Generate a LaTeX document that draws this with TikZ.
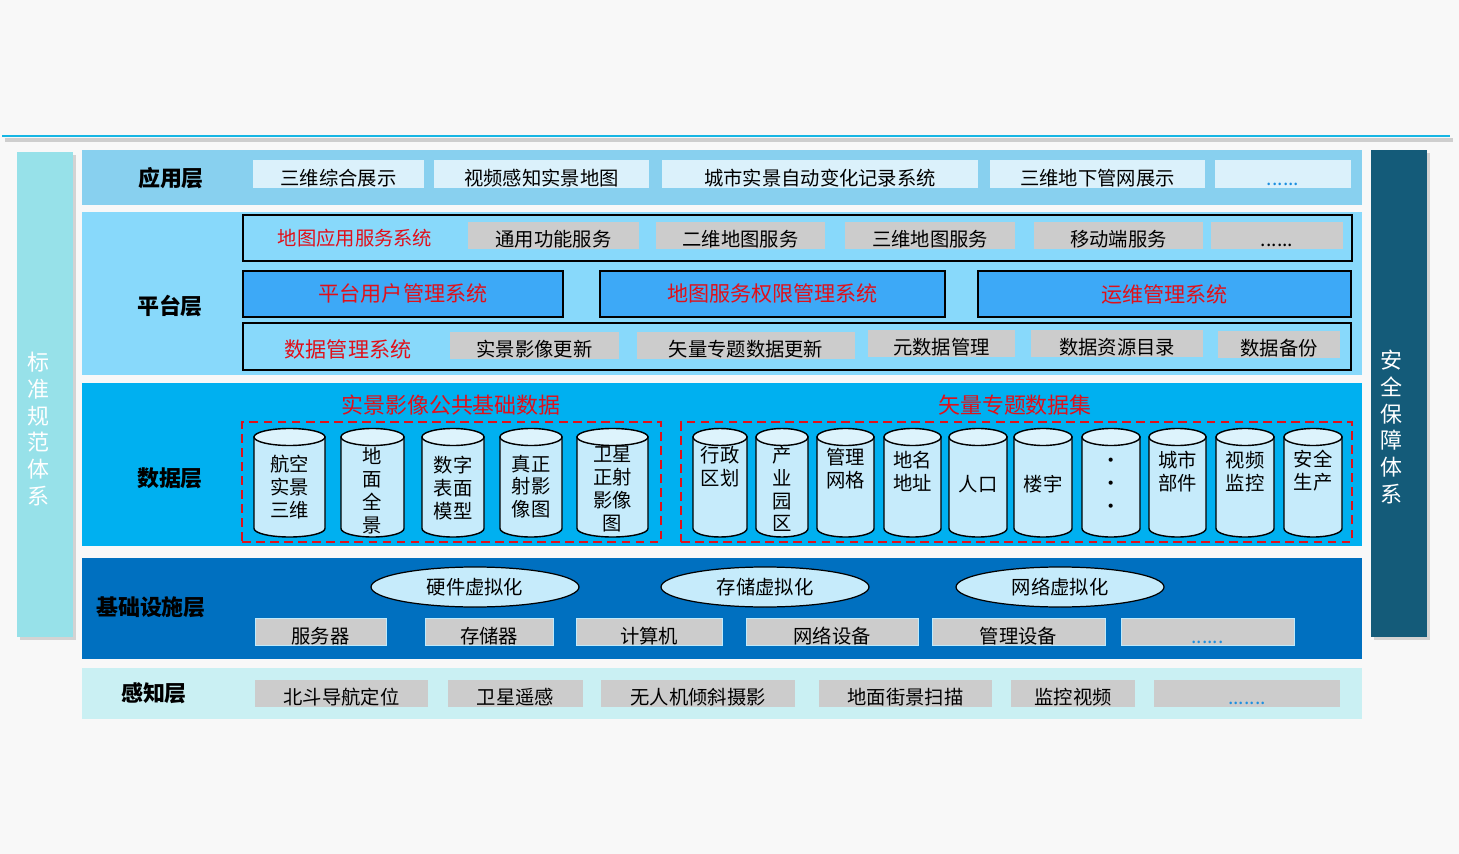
\documentclass[tikz,border=0pt]{standalone}
\usepackage{fontspec}
\setmainfont{Noto Sans CJK SC}
\usetikzlibrary{shapes.geometric,shadows}

\definecolor{pagebg}{HTML}{F8F8F8}
\definecolor{topline}{HTML}{16B6E4}
\definecolor{stdbar}{HTML}{97E1E9}
\definecolor{secbar}{HTML}{145B79}
\definecolor{applayer}{HTML}{88D0EF}
\definecolor{appbox}{HTML}{DBF1FB}
\definecolor{platlayer}{HTML}{88D9FB}
\definecolor{sysblue}{HTML}{3DA9F7}
\definecolor{datalayer}{HTML}{00B0F0}
\definecolor{cylbody}{HTML}{C6EBFB}
\definecolor{cylcap}{HTML}{DDF3FC}
\definecolor{infralayer}{HTML}{0070C0}
\definecolor{senselayer}{HTML}{CAF0F3}
\definecolor{boxgray}{HTML}{CCCCCC}
\definecolor{redtxt}{HTML}{E0101A}
\definecolor{dotblue}{HTML}{1C8FE0}

% dots kept in macros so that \foreach does not read them as a range
\newcommand{\etcdots}{......}
\newcommand{\bluedots}{\textcolor{dotblue}{......}}
\newcommand{\bluedotslong}{\textcolor{dotblue}{.......}}

\tikzstyle{band} = [inner sep=0pt, minimum width=1280*0.02cm]
\tikzstyle{layer name} = [font=\bfseries\fontsize{12.5}{15}\selectfont]
\tikzstyle{side bar} = [inner sep=0pt, minimum width=56*0.02cm, drop shadow={opacity=0.3,shadow xshift=1.5pt,shadow yshift=-1.5pt}]
\tikzstyle{side text} = [text=white, align=center, font=\fontsize{12.5}{15.3}\selectfont]
\tikzstyle{app box} = [fill=appbox, inner sep=0pt, minimum height=28*0.02cm, text height=1.3em, text depth=0pt, font=\fontsize{11}{13}\selectfont]
\tikzstyle{gray box} = [fill=boxgray, inner sep=0pt, minimum height=27*0.02cm, text height=1.3em, text depth=0pt, font=\fontsize{11}{13}\selectfont]
\tikzstyle{sys frame} = [draw=black, line width=0.8pt, inner sep=0pt, minimum height=46*0.02cm]
\tikzstyle{system} = [sys frame, fill=sysblue, text=redtxt, font=\fontsize{12}{14}\selectfont]
\tikzstyle{red title} = [text=redtxt, font=\fontsize{12.5}{15}\selectfont]
\tikzstyle{dataset} = [draw=redtxt, line width=0.9pt, dash pattern=on 5pt off 3pt, inner sep=0pt, minimum height=120*0.02cm]
\tikzstyle{store} = [draw=black, line width=0.8pt, fill=cylbody]
\tikzstyle{store cap} = [draw=black, line width=0.8pt, fill=cylcap]
\tikzstyle{store text} = [align=center, font=\fontsize{11}{13}\selectfont]
\tikzstyle{virtual} = [ellipse, draw=black, line width=0.7pt, fill=cylbody, inner sep=0pt, minimum width=208*0.02cm, minimum height=40*0.02cm, font=\fontsize{11}{13}\selectfont]

\begin{document}
\begin{tikzpicture}[x=0.02cm, y=-0.02cm]
  \useasboundingbox[fill=pagebg] (0,0) rectangle (1459,854);
  % top rule with its shadow
  \draw[black!35, opacity=0.5, line width=2.5pt] (5,140) -- (1453,140);
  \draw[topline, line width=1.6pt] (2,136) -- (1450,136);

  % side bars
  \node[side bar, fill=stdbar, minimum height=485*0.02cm] (std) at (45,394.5) {};
  \node[side text] (std-t) at (38,429) {标\\准\\规\\范\\体\\系};
  \node[side bar, fill=secbar, minimum height=487*0.02cm] (sec) at (1399,393.5) {};
  \node[side text] (sec-t) at (1391,427) {安\\全\\保\\障\\体\\系};

  % the five layers and their names
  \foreach \y/\h/\col/\name in {177.5/55/applayer/app, 293.5/163/platlayer/plat,
    464.5/163/datalayer/data, 608.5/101/infralayer/infra, 693.5/51/senselayer/sense}
  \node[band, fill=\col, minimum height=\h*0.02cm] (\name) at (722,\y) {};

  \foreach \pos/\name/\txt in {{(171,178)/app-l/应用层}, {(170,306)/plat-l/平台层},
    {(170,478)/data-l/数据层}, {(151,607)/infra-l/基础设施层}, {(154,693)/sense-l/感知层}}
  \node[layer name] (\name) at \pos {\txt};

  % application layer
  \foreach \x/\w/\name/\txt in {338.5/171/a1/三维综合展示, 541.5/215/a2/视频感知实景地图,
    820/316/a3/城市实景自动变化记录系统, 1097.5/215/a4/三维地下管网展示,
    1283/136/a5/\bluedots}
  \node[app box, minimum width=\w*0.02cm] (\name) at (\x,174.5) {\txt};

  % platform layer
  \node[sys frame, minimum width=1109*0.02cm] (map-frame) at (797.5,238) {};
  \node[red title, font=\fontsize{11}{13}\selectfont] (map-sys) at (355,238) {地图应用服务系统};
  \foreach \x/\w/\name/\txt in {553.5/171/p1/通用功能服务, 740.5/169/p2/二维地图服务,
    930/170/p3/三维地图服务, 1118.5/169/p4/移动端服务, 1277/132/p5/\etcdots}
  \node[gray box, minimum width=\w*0.02cm] (\name) at (\x,235.5) {\txt};

  \foreach \x/\w/\name/\txt in {403/320/user-sys/平台用户管理系统,
    772.5/345/auth-sys/地图服务权限管理系统, 1164.5/373/ops-sys/运维管理系统}
  \node[system, minimum width=\w*0.02cm] (\name) at (\x,294) {\txt};

  \node[sys frame, minimum width=1108*0.02cm, minimum height=47*0.02cm] (dm-frame) at (797,346.5) {};
  \node[red title, font=\fontsize{12}{14}\selectfont] (dm-sys) at (348,349) {数据管理系统};
  \foreach \x/\y/\w/\name/\txt in {534.5/345.5/169/d1/实景影像更新, 746/345.5/218/d2/矢量专题数据更新,
    941.5/343.5/147/d3/元数据管理, 1117/343.5/172/d4/数据资源目录, 1279/344.5/122/d5/数据备份}
  \node[gray box, minimum width=\w*0.02cm] (\name) at (\x,\y) {\txt};

  % data layer
  \node[red title] (live-t) at (451,405) {实景影像公共基础数据};
  \node[red title] (vec-t) at (1015,405) {矢量专题数据集};
  \node[dataset, minimum width=419*0.02cm] (live) at (451.5,482) {};
  \node[dataset, minimum width=671*0.02cm] (vec) at (1016.5,482) {};

  % cylinders: body, top cap, then the text
  \foreach \x/\w/\ty/\name/\txt in {289.5/71/487/c1/航空\\实景\\三维, 372.5/63/490.5/c2/地\\面\\全\\景,
    453/62/488/c3/数字\\表面\\模型, 531/62/486.5/c4/真正\\射影\\像图,
    612.5/71/489/c5/卫星\\正射\\影像\\图,
    720/54/466.5/v1/行政\\区划, 782/52/489/v2/产\\业\\园\\区, 845.5/57/468.5/v3/管理\\网格,
    912.5/57/471.5/v4/地名\\地址, 978/58/484/v5/人口, 1043/58/484/v6/楼宇,
    1111/58/485.5/v7/·\\·\\·, 1177.5/57/471.5/v8/城市\\部件, 1245/58/471.5/v9/视频\\监控,
    1313/58/470.5/v10/安全\\生产}
  {
    \filldraw[store] ({\x-\w/2},437) -- ({\x-\w/2},528.5)
      arc[start angle=180, end angle=360, x radius=\w/2*0.02cm, y radius=8.5*0.02cm]
      -- ({\x+\w/2},437) -- cycle;
    \filldraw[store cap] (\x,437) ellipse [x radius=\w/2*0.02cm, y radius=8.5*0.02cm];
    \node[store text] (\name) at (\x,\ty) {\txt};
  }

  % infrastructure layer
  \foreach \x/\name/\txt in {475/hw/硬件虚拟化, 765/st/存储虚拟化, 1060/nw/网络虚拟化}
  \node[virtual] (\name) at (\x,587) {\txt};

  \foreach \x/\w/\name/\txt in {320.5/131/i1/服务器, 489/128/i2/存储器, 649/146/i3/计算机,
    832/172/i4/网络设备, 1018.5/173/i5/管理设备, 1207.5/173/i6/\bluedots}
  \node[gray box, draw=cyan!25, line width=0.4pt, minimum width=\w*0.02cm] (\name) at (\x,632) {\txt};

  % sensing layer
  \foreach \x/\w/\name/\txt in {341.5/173/s1/北斗导航定位, 515.5/135/s2/卫星遥感,
    698/194/s3/无人机倾斜摄影, 905.5/173/s4/地面街景扫描, 1073/124/s5/监控视频,
    1247/186/s6/\bluedotslong}
  \node[gray box, minimum width=\w*0.02cm] (\name) at (\x,693.5) {\txt};
\end{tikzpicture}
\end{document}
